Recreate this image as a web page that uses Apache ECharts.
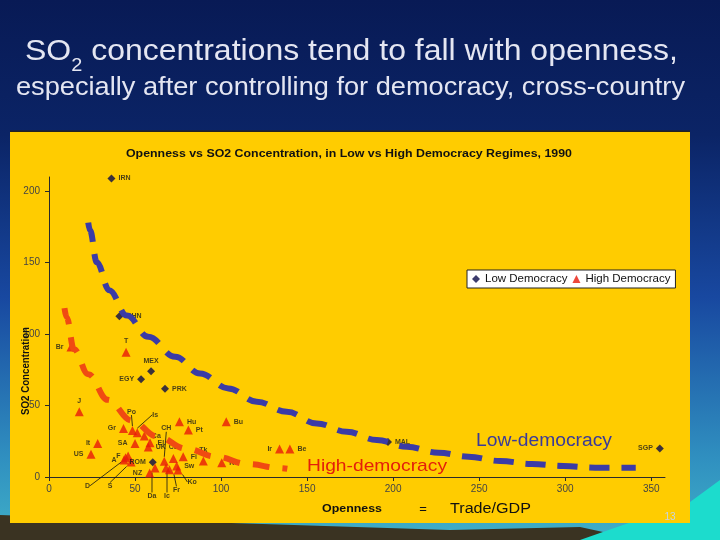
<!DOCTYPE html>
<html><head><meta charset="utf-8">
<script src="https://cdn.jsdelivr.net/npm/echarts@6/dist/echarts.min.js"></script>
<style>html,body{margin:0;padding:0;background:#0a1f5c;}#c{width:720px;height:540px;}</style>
</head><body><div id="c"></div>
<script>
// ---------- data ----------
const lowNames = ['IRN','CHN','MEX','EGY','PRK','ROM','MAL','SGP'];
const lowOpenness = [36.3, 40.9, 59.3, 53.5, 67.4, 60.3, 197, 355];
const lowSO2 = [209, 112.6, 74, 68.5, 61.8, 10.3, 24.5, 20];

const highNames = ['Br','T','J','Gr','Po','Is','Ca','SA','It','US','El','UK','F','A','D','S','NZ','CH','Cu','Fi','Sw','Ko','Fr','Ic','Da','Hu','Pt','Bu','Tk','Kc','Ir','Be'];
const highOpenness = [12.8,44.8,17.6,43.3,48.5,51.3,55.4,50,28.3,24.4,58.7,57.7,46,43.6,44.5,47.7,58.5,67,72.3,78,74.2,75,70,68,61.6,75.8,81,103,89.7,100.4,134,140];
const highSO2 = [91,87.4,45.7,34,32.5,31,28.7,23.5,23.5,16,24,21,14.7,11.9,13.5,10.5,2.8,11,13,14.2,7.7,4.9,5,6.3,6.3,38.7,32.9,38.7,11.2,10,19.6,19.6];

const lowFitOpenness = [22.8, 23.8, 27.8, 35, 45.3, 57.7, 73.3, 87.8, 104.2, 120.8, 138.2, 155.6, 173, 190.5, 208, 226.3, 243.8, 262.2, 280.6, 299, 317.4, 341];
const lowFitSO2 = [178, 172.7, 150.3, 130.8, 113, 98.1, 84.1, 72.5, 62, 52.7, 45.7, 37.5, 31.7, 25.9, 21.2, 17, 14.2, 11.2, 9.1, 7.7, 6.5, 6.5];

const highFitOpenness = [9.0, 10.2, 14.5, 22.8, 34.2, 48.1, 62.6, 80, 97.1, 115.9, 134, 138.5];
const highFitSO2 = [118.2, 111.9, 89.5, 72, 54, 39.5, 28.5, 19.7, 14.2, 9, 6.3, 5.8];

const xTicks = {min: 0, max: 358, step: 50};
const yTicks = {min: 0, max: 210, step: 50};

// ---------- label placement (style only) ----------
const leader = {Po:[-1,-19], Is:[18,-18], CH:[2,-33], D:[-38,28], S:[-21,24], Da:[-3,28], Ic:[1,28], Fr:[7,20], Ko:[14,12]};
const side = {Br:['left'], T:['top'], J:['top'], Gr:['left'], Ca:['right',[-2,-6]], SA:['left',[0,-6]], It:['left'], US:['left'],
  El:['right',[0,-3]], UK:['right',[0,1]], F:['left',[0,-6]], A:['left',[-3,0]], NZ:['left'], Cu:['top'], Fi:['right',[0,4]],
  Sw:['right',[0,2]], Hu:['right',[0,-6]], Pt:['right'], Bu:['right',[0,-6]], Tk:['top'], Kc:['right',[2,0]], Ir:['left',[0,-6]], Be:['right'],
  IRN:['right',[6,0]], CHN:['right'], MEX:['top',[8,0]], EGY:['left',[-4,0]], PRK:['right',[0,-4]], ROM:['left',[2,-6]], MAL:['right'], SGP:['left',[0,-6]]};

const FONT = '"Liberation Sans", Arial, sans-serif';

function mkItem(n, x, y) {
  const item = {name: n, value: [x, y]};
  if (leader[n]) {
    item.label = {position: 'inside'};
    item.labelLine = {show: true, lineStyle: {color: '#111', width: 0.8}};
  } else {
    const s = side[n] || ['right'];
    item.label = {position: s[0], offset: s[1] || [0, 0]};
  }
  return item;
}
const lowItems = lowNames.map((n, i) => mkItem(n, lowOpenness[i], lowSO2[i]));
const highItems = highNames.map((n, i) => mkItem(n, highOpenness[i], highSO2[i]));
const lowFit = lowFitOpenness.map((x, i) => [x, lowFitSO2[i]]);
const highFit = highFitOpenness.map((x, i) => [x, highFitSO2[i]]);

function labelLayout(p) {
  const names = p.seriesIndex === 0 ? lowNames : highNames;
  const L = leader[names[p.dataIndex]];
  return L ? {dx: L[0], dy: L[1]} : {};
}

// ---------- text fitting helpers ----------
const mctx = document.createElement('canvas').getContext('2d');
function tw(text, font) { mctx.font = font; return mctx.measureText(text).width; }
function fitText(text, font, left, right, cy, fill, z) {
  const w = tw(text, font);
  return {type: 'text', x: left, y: cy, scaleX: (right - left) / w, z: z || 20,
    style: {text: text, font: font, fill: fill, textAlign: 'left', align: 'left', textVerticalAlign: 'middle', verticalAlign: 'middle'}};
}

const f1 = '29px ' + FONT, fSub = '18px ' + FONT, f2 = '26px ' + FONT;
const p1 = 'SO', p2 = '2', p3 = ' concentrations tend to fall with openness,';
const wTot = tw(p1, f1) + tw(p2, fSub) + tw(p3, f1);
const s1 = (678 - 25) / wTot;
const titleCol = '#e4e6f2';
function partEl(text, font, x, cy) {
  return {type: 'text', x: x, y: cy, scaleX: s1, z: 20,
    style: {text: text, font: font, fill: titleCol, textAlign: 'left', align: 'left', textVerticalAlign: 'middle', verticalAlign: 'middle'}};
}
const x2 = 25 + tw(p1, f1) * s1;
const x3 = x2 + tw(p2, fSub) * s1;

const yName = fitText('SO2 Concentration', 'bold 10px ' + FONT, 0, 88, 0, '#111', 20);
yName.x = 26; yName.y = 371; yName.rotation = Math.PI / 2;
yName.style.textAlign = 'center'; yName.style.align = 'center';

const graphics = [
  {type: 'rect', z: -30, shape: {x: 0, y: 0, width: 720, height: 540},
    style: {fill: new echarts.graphic.LinearGradient(0, 0, 0, 1, [
      {offset: 0, color: '#081a55'}, {offset: 0.25, color: '#0b2466'}, {offset: 0.55, color: '#1848a0'},
      {offset: 0.85, color: '#3090c0'}, {offset: 1, color: '#40b0c8'}])}},
  {type: 'polygon', z: -29, shape: {points: [[0, 515], [200, 522], [450, 530], [580, 527], [640, 540], [0, 540]]},
    style: {fill: '#3a3322'}},
  {type: 'polygon', z: -29, shape: {points: [[580, 540], [620, 526], [690, 502], [720, 480], [720, 540]]},
    style: {fill: '#1cdccd'}},
  {type: 'rect', z: -20, shape: {x: 10, y: 131, width: 680, height: 392}, style: {fill: '#ffcc00', stroke: null}},
  {type: 'rect', z: -19, shape: {x: 10, y: 130.5, width: 680, height: 1.5}, style: {fill: '#222'}},
  partEl(p1, f1, 25, 52.3),
  partEl(p2, fSub, x2, 66),
  partEl(p3, f1, x3, 52.3),
  fitText('especially after controlling for democracy, cross-country', f2, 16, 685, 88.3, titleCol),
  fitText('Openness vs SO2 Concentration, in Low vs High Democracy Regimes, 1990', 'bold 10px ' + FONT, 126, 572, 154, '#111'),
  yName,
  fitText('Openness', 'bold 10px ' + FONT, 322, 382, 509, '#111'),
  {type: 'text', x: 423, y: 509, z: 20, style: {text: '=', font: '13px ' + FONT, fill: '#111', textAlign: 'center', align: 'center', textVerticalAlign: 'middle', verticalAlign: 'middle'}},
  fitText('Trade/GDP', '14px ' + FONT, 450, 531, 509, '#111'),
  fitText('Low-democracy', '18px ' + FONT, 476, 612, 441.5, '#3a3a9a'),
  fitText('High-democracy', '17px ' + FONT, 307, 447, 466, '#e41e0a'),
  {type: 'text', x: 670, y: 517, z: 20, style: {text: '13', font: '10px ' + FONT, fill: '#c8d4e0', textAlign: 'center', align: 'center', textVerticalAlign: 'middle', verticalAlign: 'middle'}}
];

const labelBase = {show: true, formatter: '{b}', fontSize: 7, fontWeight: 'bold', color: '#1a1a1a', fontFamily: FONT, distance: 3};

const chart = echarts.init(document.getElementById('c'), null, {renderer: 'canvas'});
chart.setOption({
  animation: false,
  backgroundColor: 'transparent',
  graphic: {elements: graphics},
  grid: {left: 49, right: 55, top: 177, bottom: 63, containLabel: false},
  legend: {data: ['Low Democracy', 'High Democracy'], left: 467, top: 270, orient: 'horizontal',
    itemWidth: 8, itemHeight: 8, itemGap: 5, padding: [3, 5, 3, 5], backgroundColor: '#fff',
    borderColor: '#222', borderWidth: 1, borderRadius: 0, selectedMode: false,
    textStyle: {fontSize: 11.5, color: '#111', fontFamily: FONT}},
  xAxis: {type: 'value', min: xTicks.min, max: xTicks.max, interval: xTicks.step,
    axisLine: {show: true, onZero: false, lineStyle: {color: '#2a2a2a', width: 1}},
    axisTick: {show: true, length: 4, lineStyle: {color: '#2a2a2a'}},
    axisLabel: {color: '#444', fontSize: 10, margin: 7, showMaxLabel: false, fontFamily: FONT},
    splitLine: {show: false}},
  yAxis: {type: 'value', min: yTicks.min, max: yTicks.max, interval: yTicks.step,
    axisLine: {show: true, onZero: false, lineStyle: {color: '#2a2a2a', width: 1}},
    axisTick: {show: true, length: 4, lineStyle: {color: '#2a2a2a'}},
    axisLabel: {color: '#444', fontSize: 10, margin: 9, showMaxLabel: false, fontFamily: FONT},
    splitLine: {show: false}},
  series: [
    {name: 'Low Democracy', type: 'scatter', symbol: 'diamond', symbolSize: 8, z: 3,
      itemStyle: {color: '#0a0a48'}, label: labelBase, labelLayout: labelLayout, data: lowItems},
    {name: 'High Democracy', type: 'scatter', symbol: 'triangle', symbolSize: 9, z: 3,
      itemStyle: {color: '#e8190a'}, label: labelBase, labelLayout: labelLayout, data: highItems},
    {name: 'Low fit', type: 'line', data: lowFit, showSymbol: false, smooth: 0.4, smoothMonotone: 'x', z: 5, silent: true,
      lineStyle: {color: '#3b3ba6', width: 6, type: [20, 12], cap: 'butt'}},
    {name: 'High fit', type: 'line', data: highFit, showSymbol: false, smooth: 0.4, smoothMonotone: 'x', z: 5, silent: true,
      lineStyle: {color: '#f04a12', width: 6, type: [17, 13], cap: 'butt'}}
  ]
});
</script></body></html>
